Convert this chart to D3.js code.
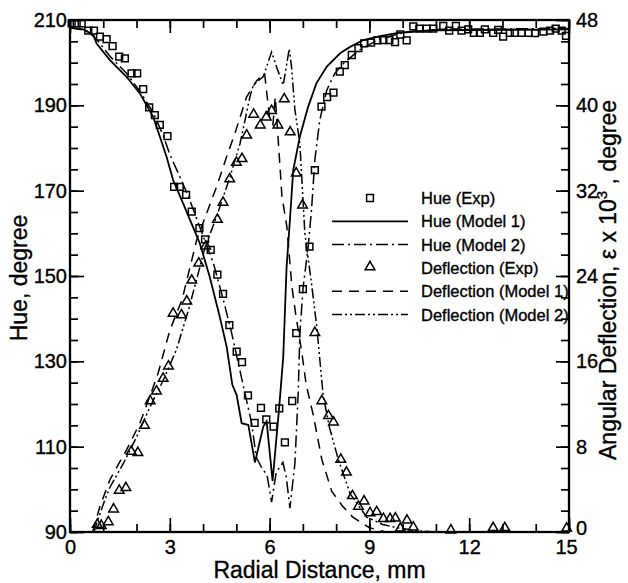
<!DOCTYPE html>
<html>
<head>
<meta charset="utf-8">
<title>Hue and Angular Deflection</title>
<script src="https://d3js.org/d3.v7.min.js"></script>
<style>
  body { margin: 0; background: #fff; }
  svg { font-family: "Liberation Sans", Arial, sans-serif; }
  svg text { stroke: #000; stroke-width: 0.35px; fill: #000; }
</style>
</head>
<body>
<script>
// ---- data: [radial distance mm, value] ----
var hueExp = [[0.05,209.2],[0.2,209.2],[0.35,209.2],[0.55,207.5],[0.72,207.5],[0.9,206.1],[1.1,205.5],[1.28,203.9],
  [1.48,201.4],[1.65,201.0],[1.85,197.5],[2.02,197.5],[2.2,193.8],[2.38,189.5],[2.55,187.7],[2.7,185.4],[2.93,182.8],
  [3.13,170.9],[3.3,170.9],[3.49,169.0],[3.66,165.1],[3.89,161.2],[4.06,158.6],[4.23,156.1],[4.43,150.3],[4.6,145.8],
  [4.79,138.5],[5.01,132.3],[5.17,129.8],[5.35,122.0],[5.55,115.6],[5.74,119.1],[5.9,116.4],[6.12,114.7],[6.29,119.0],
  [6.46,111.0],[6.68,120.7],[6.8,136.6],[7.0,146.9],[7.2,156.9],[7.36,174.8],[7.56,189.7],[7.73,191.9],[7.92,193.0],
  [8.11,197.9],[8.26,199.4],[8.47,201.8],[8.67,203.4],[8.84,204.5],[9.05,204.7],[9.24,205.2],[9.42,205.3],[9.6,205.3],
  [9.77,204.8],[9.93,206.6],[10.12,205.2],[10.32,208.5],[10.5,208.0],[10.72,208.0],[10.92,208.0],[11.22,208.6],
  [11.4,207.5],[11.6,208.6],[11.77,207.5],[11.97,207.8],[12.14,207.0],[12.32,207.0],[12.47,207.8],[12.72,207.0],
  [12.87,207.7],[13.02,206.1],[13.22,207.0],[13.37,207.0],[13.58,207.0],[13.78,207.0],[13.98,206.9],[14.23,207.3],
  [14.43,207.5],[14.6,208.0],[14.78,207.5],[14.91,206.3]];

var hueModel1 = [[0,208.2],[0.4,207.8],[0.7,206.5],[0.8,204.5],[1.2,200.6],[1.7,196.7],[2.1,192.8],[2.5,187.3],
  [2.7,182.7],[2.9,178],[3.1,172.5],[3.4,167],[3.9,157.7],[4.2,149.8],[4.5,140.5],[4.71,133.4],[4.88,124.5],
  [5.01,122.1],[5.16,115.5],[5.36,115.1],[5.56,106.3],[5.81,114.7],[5.91,115.9],[6.09,102],[6.29,119.4],[6.41,131],
  [6.51,152],[6.61,163],[6.71,174.8],[6.91,182.7],[7.16,189.7],[7.41,195.2],[7.72,199.1],[8.12,202.2],[8.42,203.7],
  [8.82,205.3],[9.32,206.2],[9.82,206.9],[10.3,207.3],[11,207.6],[15,207.8]];

var hueModel2 = [[0,208.2],[0.5,207.5],[0.8,205.5],[1.2,201.5],[1.7,197.5],[2.1,193.3],[2.5,188.3],[2.8,183],
  [3.0,178.5],[3.3,173.3],[3.56,168.6],[3.9,161.5],[4.31,153],[4.61,144.4],[4.86,136.6],[5.06,129.5],[5.26,122.5],
  [5.46,115.5],[5.6,107.5],[5.8,104.5],[5.92,103.5],[6.06,97],[6.2,104],[6.4,106.3],[6.5,103],[6.61,95.6],[6.76,106],
  [6.86,122.5],[6.91,136.6],[7.01,147.5],[7.16,156.9],[7.26,165.5],[7.36,177.2],[7.51,186.6],[7.72,193.6],
  [7.96,197.5],[8.22,199.8],[8.7,203],[9.3,205.5],[10,207],[11,207.8],[15,208]];

var deflExp = [[0.82,0.6],[0.94,0.5],[1.15,0.85],[1.31,2.05],[1.48,3.8],[1.68,4.05],[1.84,7.45],[2.04,7.35],
  [2.24,9.9],[2.41,12.2],[2.6,13.1],[2.8,14.3],[2.96,15.45],[3.1,20.4],[3.35,20.25],[3.51,21.55],[3.66,23.5],
  [3.87,25.1],[4.08,26.7],[4.43,29.2],[4.6,30.8],[4.8,33.0],[5.0,34.55],[5.17,34.9],[5.31,37.1],[5.52,39.05],
  [5.72,38.05],[5.9,38.8],[6.06,39.4],[6.25,38.05],[6.44,40.5],[6.62,37.4],[6.8,33.55],[6.99,30.55],[7.36,18.6],
  [7.57,12.2],[7.77,10.8],[7.92,10.2],[8.14,6.7],[8.31,5.5],[8.49,3.3],[8.67,2.3],[8.84,2.8],[9.02,1.7],[9.22,1.8],
  [9.42,1.15],[9.62,1.15],[9.78,1.2],[9.93,0.25],[10.13,1.0],[10.32,0.35],[11.45,0.08],[12.72,0.3],[13.07,0.3],
  [14.93,0.25]];

var deflModel1 = [[0.68,0],[0.9,2.4],[1.2,4.9],[1.7,7.7],[2.1,10.2],[2.4,12.7],[2.65,14.9],[3.0,18.9],[3.37,21.8],
  [3.81,27.4],[4.11,29.9],[4.41,32.4],[4.71,35.2],[4.96,37.4],[5.31,40.8],[5.61,42.3],[5.85,43.0],[6.0,38.8],
  [6.1,38.2],[6.17,40.8],[6.28,35.8],[6.37,31.5],[6.52,28.6],[6.67,23.0],[6.79,20.3],[6.97,16.8],[7.1,13.8],
  [7.31,11.0],[7.57,6.8],[7.87,3.8],[8.2,2.4],[8.5,1.4],[9.0,0.4],[9.5,0],[15,0]];

var deflModel2 = [[0.72,0],[0.8,0.8],[1.0,2.6],[1.2,4.2],[1.6,6.4],[2.0,8.9],[2.4,11.7],[2.8,14.2],[3.2,17.1],
  [3.56,20.8],[3.8,23.6],[4.06,26.7],[4.41,29.6],[4.81,33.3],[5.11,36.4],[5.41,40.8],[5.51,41.9],[5.81,42.7],
  [6.06,45.0],[6.21,43.6],[6.41,41.9],[6.59,45.3],[6.66,43.6],[6.76,39.6],[6.91,36.4],[7.06,28],[7.26,23.3],
  [7.42,19.2],[7.61,12.8],[7.8,9.8],[8.07,6.75],[8.42,3.6],[8.92,1.4],[9.4,0.7],[9.92,0.35],[10.5,0.1],[11,0],[15,0]];

var xTicks = [0, 3, 6, 9, 12, 15];
var hueTicks = [90, 110, 130, 150, 170, 190, 210];
var deflTicks = [0, 8, 16, 24, 32, 40, 48];
var legendNames = ["Hue (Exp)", "Hue (Model 1)", "Hue (Model 2)",
                   "Deflection (Exp)", "Deflection (Model 1)", "Deflection (Model 2)"];

var margin = {top: 20, right: 59, bottom: 51, left: 70};
var W = 628, H = 583;
var width = W - margin.left - margin.right;
var height = H - margin.top - margin.bottom;

var x = d3.scaleLinear().domain([0, 15]).range([0, width]);
var yHue = d3.scaleLinear().domain([90, 210]).range([height, 0]);
var yDef = d3.scaleLinear().domain([0, 48]).range([height, 0]);

var svg = d3.select("body").append("svg")
    .attr("width", W).attr("height", H)
  .append("g")
    .attr("transform", "translate(" + margin.left + "," + margin.top + ")");

svg.append("clipPath").attr("id", "clip")
  .append("rect").attr("width", width).attr("height", height);

// axes: minor and major ticks all point inward
function styleAxis(g) {
  g.select(".domain").remove();
  g.selectAll("line").attr("stroke", "#000").attr("stroke-width", 1.7);
  g.selectAll("text").attr("font-size", 20);
}

svg.append("g").attr("transform", "translate(0," + height + ")")
  .call(d3.axisBottom(x).tickValues(d3.range(0, 16)).tickSize(-8).tickFormat(""))
  .call(styleAxis);
var xMajor = svg.append("g").attr("transform", "translate(0," + height + ")")
  .call(d3.axisBottom(x).tickValues(xTicks).tickSize(-14).tickPadding(8).tickFormat(d3.format("d")))
  .call(styleAxis);
// last label sits a little left of the corner, as in the original
xMajor.selectAll("text").filter(function(d) { return d === 15; }).attr("dx", -3);

svg.append("g")
  .call(d3.axisTop(x).tickValues(d3.range(0, 16)).tickSize(-8).tickFormat(""))
  .call(styleAxis);
svg.append("g")
  .call(d3.axisTop(x).tickValues(xTicks).tickSize(-13).tickFormat(""))
  .call(styleAxis);

svg.append("g")
  .call(d3.axisLeft(yHue).tickValues(d3.range(90, 211, 5)).tickSize(-8).tickFormat(""))
  .call(styleAxis);
svg.append("g")
  .call(d3.axisLeft(yHue).tickValues(hueTicks).tickSize(-14).tickPadding(3).tickFormat(d3.format("d")))
  .call(styleAxis);

svg.append("g").attr("transform", "translate(" + width + ",0)")
  .call(d3.axisRight(yDef).tickValues(d3.range(0, 49, 2)).tickSize(-8).tickFormat(""))
  .call(styleAxis);
var yRight = svg.append("g").attr("transform", "translate(" + width + ",0)")
  .call(d3.axisRight(yDef).tickValues(deflTicks).tickSize(-13).tickPadding(7).tickFormat(d3.format("d")))
  .call(styleAxis);
yRight.selectAll("text").filter(function(d) { return d === 0; }).attr("dy", "0.1em");

svg.append("rect")
  .attr("width", width).attr("height", height)
  .attr("fill", "none").attr("stroke", "#000").attr("stroke-width", 2.3);

// axis titles
svg.append("text")
  .attr("x", width / 2).attr("y", height + 46)
  .attr("text-anchor", "middle").attr("font-size", 23)
  .text("Radial Distance, mm");

svg.append("text")
  .attr("transform", "translate(-43," + (height / 2 + 2) + ") rotate(-90)")
  .attr("text-anchor", "middle").attr("font-size", 23)
  .text("Hue, degree");

var rt = svg.append("text")
  .attr("transform", "translate(" + (width + 47) + "," + (height / 2 + 4) + ") rotate(-90)")
  .attr("text-anchor", "middle").attr("font-size", 23);
rt.append("tspan").text("Angular Deflection, \u03b5 x 10");
rt.append("tspan").attr("dy", -9).attr("font-size", 15).text("3");
rt.append("tspan").attr("dy", 9).text(" , degree");

// lines
var lineHue = d3.line().x(function(d) { return x(d[0]); }).y(function(d) { return yHue(d[1]); });
var lineDef = d3.line().x(function(d) { return x(d[0]); }).y(function(d) { return yDef(d[1]); });

var styles = {
  solid: null,
  dashdot: "12,4,2,4",
  dashed: "10,7",
  dashdotdot: "10,3,2,3,2,3"
};

var plot = svg.append("g").attr("clip-path", "url(#clip)");

plot.append("path").datum(hueModel1).attr("d", lineHue)
  .attr("fill", "none").attr("stroke", "#000").attr("stroke-width", 1.8);
plot.append("path").datum(hueModel2).attr("d", lineHue)
  .attr("fill", "none").attr("stroke", "#000").attr("stroke-width", 1.5)
  .attr("stroke-dasharray", styles.dashdot);
plot.append("path").datum(deflModel1).attr("d", lineDef)
  .attr("fill", "none").attr("stroke", "#000").attr("stroke-width", 1.5)
  .attr("stroke-dasharray", styles.dashed);
plot.append("path").datum(deflModel2).attr("d", lineDef)
  .attr("fill", "none").attr("stroke", "#000").attr("stroke-width", 1.5)
  .attr("stroke-dasharray", styles.dashdotdot);

var square = d3.symbol().type(d3.symbolSquare).size(46);
var triangle = d3.symbol().type(d3.symbolTriangle).size(40);

svg.selectAll(".sq").data(hueExp).enter().append("path")
  .attr("class", "sq")
  .attr("transform", function(d) { return "translate(" + x(d[0]) + "," + yHue(d[1]) + ")"; })
  .attr("d", square)
  .attr("fill", "none").attr("stroke", "#000").attr("stroke-width", 1.5);

svg.selectAll(".tri").data(deflExp).enter().append("path")
  .attr("class", "tri")
  .attr("transform", function(d) { return "translate(" + x(d[0]) + "," + (yDef(d[1]) - 1) + ")"; })
  .attr("d", triangle)
  .attr("fill", "none").attr("stroke", "#000").attr("stroke-width", 1.5);

// legend
var legendKinds = ["square", "solid", "dashdot", "triangle", "dashed", "dashdotdot"];
var legend = svg.append("g").attr("transform", "translate(262,178)");
var rowH = 23.3;

legendNames.forEach(function(name, i) {
  var row = legend.append("g").attr("transform", "translate(0," + (i * rowH) + ")");
  var kind = legendKinds[i];
  if (kind === "square" || kind === "triangle") {
    row.append("path")
      .attr("transform", "translate(38," + (kind === "triangle" ? -1 : 0) + ")")
      .attr("d", kind === "square" ? square : triangle)
      .attr("fill", "none").attr("stroke", "#000").attr("stroke-width", 1.5);
  } else {
    row.append("line").attr("x1", 0).attr("x2", 76).attr("y1", 0).attr("y2", 0)
      .attr("stroke", "#000").attr("stroke-width", kind === "solid" ? 1.8 : 1.5)
      .attr("stroke-dasharray", styles[kind]);
  }
  row.append("text").attr("x", 89).attr("y", 6)
    .attr("font-size", 16.5).text(name);
});
</script>
</body>
</html>
